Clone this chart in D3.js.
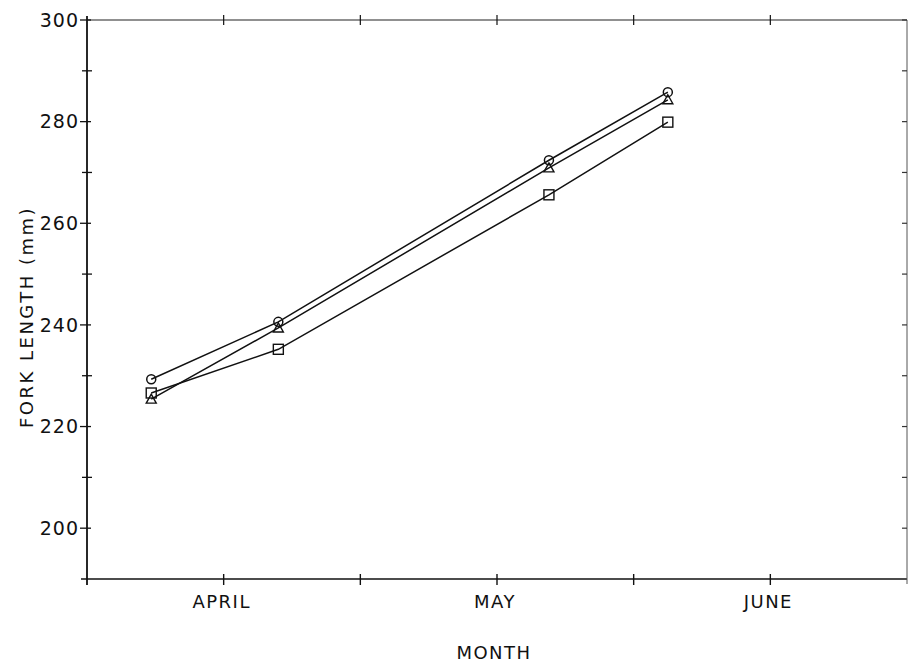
<!DOCTYPE html>
<html>
<head>
<meta charset="utf-8">
<script src="https://cdn.jsdelivr.net/npm/d3@7"></script>
<style>
  html, body { margin: 0; padding: 0; background: #fff; }
  svg { display: block; }
  text { font-family: "DejaVu Sans", "Liberation Sans", sans-serif; fill: #111; }
</style>
</head>
<body>
<svg id="chart" width="910" height="663"></svg>
<script>
// ---- data ----
const samplePositions = [0.47, 1.40, 3.38, 4.25];   // x positions (half-month units)
const circleSeries   = [229.3, 240.6, 272.4, 285.8];
const triangleSeries = [225.4, 239.4, 270.9, 284.3];
const squareSeries   = [226.6, 235.2, 265.6, 279.9];
const monthTicks  = [1, 2, 3, 4, 5];
const monthLabels = [{v: 1, t: "APRIL"}, {v: 3, t: "MAY"}, {v: 5, t: "JUNE"}];
const yMajorTicks = [200, 220, 240, 260, 280, 300];
const yMinorTicks = [210, 230, 250, 270, 290];

// ---- layout ----
const svg = d3.select("#chart");
const pLeft = 87, pRight = 907, pTop = 20, pBottom = 579;
const x = d3.scaleLinear().domain([0, 6]).range([pLeft, pRight]);
const y = d3.scaleLinear().domain([190, 300]).range([pBottom, pTop]);
const ink = "#111";

// frame
svg.append("line").attr("x1", pLeft).attr("x2", pLeft).attr("y1", pTop - 4).attr("y2", pBottom + 6)
  .attr("stroke", ink).attr("stroke-width", 1.8);
svg.append("line").attr("x1", pLeft - 6).attr("x2", pRight).attr("y1", pBottom).attr("y2", pBottom)
  .attr("stroke", ink).attr("stroke-width", 1.6);
svg.append("line").attr("x1", pLeft).attr("x2", pRight).attr("y1", pTop).attr("y2", pTop)
  .attr("stroke", "#222").attr("stroke-width", 1.2);
svg.append("line").attr("x1", pRight).attr("x2", pRight).attr("y1", pTop).attr("y2", pBottom + 5)
  .attr("stroke", "#555").attr("stroke-width", 1);

// bottom axis ticks (crossing)
svg.append("g").selectAll("line").data(monthTicks).join("line")
  .attr("x1", d => x(d)).attr("x2", d => x(d)).attr("y1", pBottom - 5).attr("y2", pBottom + 6)
  .attr("stroke", ink).attr("stroke-width", 1.4);
// top axis ticks
svg.append("g").selectAll("line").data(monthTicks).join("line")
  .attr("x1", d => x(d)).attr("x2", d => x(d)).attr("y1", pTop - 5).attr("y2", pTop + 5)
  .attr("stroke", ink).attr("stroke-width", 1.2);
// month labels
svg.append("g").selectAll("text").data(monthLabels).join("text")
  .attr("x", d => x(d.v) - 2).attr("y", pBottom + 29).attr("text-anchor", "middle")
  .attr("font-size", 18).attr("letter-spacing", 1.5).text(d => d.t);
svg.append("text").attr("x", x(3) - 3).attr("y", 659).attr("text-anchor", "middle")
  .attr("font-size", 18).attr("letter-spacing", 1.5).text("MONTH");

// left axis ticks
svg.append("g").selectAll("line").data(yMajorTicks).join("line")
  .attr("x1", pLeft - 7).attr("x2", pLeft + 4).attr("y1", d => y(d)).attr("y2", d => y(d))
  .attr("stroke", ink).attr("stroke-width", 1.3);
svg.append("g").selectAll("line").data(yMinorTicks).join("line")
  .attr("x1", pLeft - 5).attr("x2", pLeft + 5).attr("y1", d => y(d)).attr("y2", d => y(d))
  .attr("stroke", ink).attr("stroke-width", 1.3);
svg.append("g").selectAll("text").data(yMajorTicks).join("text")
  .attr("x", pLeft - 8).attr("y", d => y(d)).attr("dy", "0.36em").attr("text-anchor", "end")
  .attr("font-size", 19).attr("letter-spacing", 1).text(d => d);
// right axis ticks (inward)
svg.append("g").selectAll("line").data(yMajorTicks.concat(yMinorTicks)).join("line")
  .attr("x1", pRight - 5).attr("x2", pRight).attr("y1", d => y(d)).attr("y2", d => y(d))
  .attr("stroke", "#333").attr("stroke-width", 1.2);

svg.append("text")
  .attr("transform", `translate(33, 317) rotate(-90)`)
  .attr("text-anchor", "middle").attr("font-size", 18).attr("letter-spacing", 2.5)
  .text("FORK LENGTH  (mm)");

// ---- series ----
const series = [
  {name: "circle", vals: circleSeries},
  {name: "triangle", vals: triangleSeries},
  {name: "square", vals: squareSeries}
];
const line = d3.line().x(d => x(d[0])).y(d => y(d[1]));
series.forEach(s => {
  const pts = samplePositions.map((p, i) => [p, s.vals[i]]);
  svg.append("path").datum(pts).attr("d", line)
    .attr("fill", "none").attr("stroke", ink).attr("stroke-width", 1.5);
  const g = svg.append("g");
  pts.forEach(p => {
    const cx = x(p[0]), cy = y(p[1]);
    if (s.name === "circle") {
      g.append("circle").attr("cx", cx).attr("cy", cy).attr("r", 4.5)
        .attr("fill", "none").attr("stroke", ink).attr("stroke-width", 1.5);
    } else if (s.name === "square") {
      g.append("rect").attr("x", cx - 5).attr("y", cy - 5).attr("width", 10).attr("height", 10)
        .attr("fill", "none").attr("stroke", ink).attr("stroke-width", 1.4);
    } else {
      g.append("path").attr("d", `M${cx},${cy - 5}L${cx + 5},${cy + 4}L${cx - 5},${cy + 4}Z`)
        .attr("fill", "none").attr("stroke", ink).attr("stroke-width", 1.4);
    }
  });
});
</script>
</body>
</html>
